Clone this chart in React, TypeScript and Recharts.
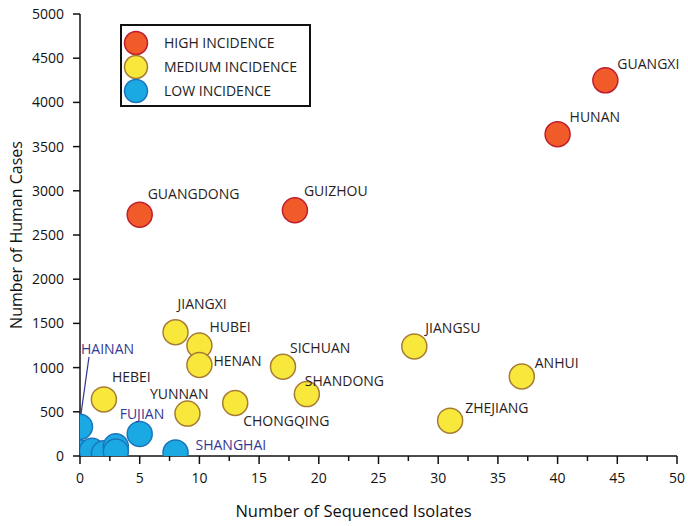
import { Legend, Scatter, ScatterChart, XAxis, YAxis } from "recharts";

const FONT = "'Open Sans', 'Noto Sans', sans-serif";

// high incidence provinces
const HIGH_NAMES = ["GUANGDONG", "GUIZHOU", "HUNAN", "GUANGXI"];
const HIGH_ISOLATES = [5, 18, 40, 44];
const HIGH_CASES = [2730, 2780, 3640, 4250];

// medium incidence provinces
const MED_NAMES = [
  "HEBEI", "JIANGXI", "HUBEI", "HENAN", "YUNNAN", "CHONGQING",
  "SICHUAN", "SHANDONG", "JIANGSU", "ZHEJIANG", "ANHUI",
];
const MED_ISOLATES = [2, 8, 10, 10, 9, 13, 17, 19, 28, 31, 37];
const MED_CASES = [640, 1400, 1250, 1030, 480, 600, 1010, 700, 1240, 400, 900];

// low incidence provinces (unnamed ones are unlabelled in the figure)
const LOW_NAMES = ["HAINAN", "", "", "", "", "", "FUJIAN", "SHANGHAI"];
const LOW_ISOLATES = [0, 0, 1, 2, 3, 3, 5, 8];
const LOW_CASES = [330, 40, 60, 30, 110, 50, 250, 40];

const LEGEND_LABELS = ["HIGH INCIDENCE", "MEDIUM INCIDENCE", "LOW INCIDENCE"];

const X_TICKS = [0, 2.5, 5, 7.5, 10, 12.5, 15, 17.5, 20, 22.5, 25, 27.5, 30, 32.5, 35, 37.5, 40, 42.5, 45, 47.5, 50];
const Y_TICKS = [0, 500, 1000, 1500, 2000, 2500, 3000, 3500, 4000, 4500, 5000];

const toRows = (names: string[], xs: number[], ys: number[]) =>
  names.map((name, i) => ({ name, x: xs[i], y: ys[i] }));

const high = toRows(HIGH_NAMES, HIGH_ISOLATES, HIGH_CASES);
const medium = toRows(MED_NAMES, MED_ISOLATES, MED_CASES);
const low = toRows(LOW_NAMES, LOW_ISOLATES, LOW_CASES);

const STYLES = [
  { fill: "#f15a29", stroke: "#be1e2d", text: "#2b1d1d" },
  { fill: "#f9e83c", stroke: "#a67c35", text: "#2b1d1d" },
  { fill: "#1ba9e4", stroke: "#1c75bc", text: "#353893" },
];

// label placement relative to the circle centre: [dx, dy, anchor]
const LABEL_POS: Record<string, [number, number, "start" | "end"]> = {
  GUANGXI: [12, -16, "start"],
  HUNAN: [12, -17, "start"],
  GUANGDONG: [8, -21, "start"],
  GUIZHOU: [9, -19, "start"],
  JIANGXI: [2, -28, "start"],
  HUBEI: [10, -19, "start"],
  HENAN: [14, -4, "start"],
  HEBEI: [8, -22, "start"],
  YUNNAN: [21, -20, "end"],
  CHONGQING: [8, 18, "start"],
  SICHUAN: [7, -19, "start"],
  SHANDONG: [-2, -13, "start"],
  JIANGSU: [11, -18, "start"],
  ANHUI: [13, -13, "start"],
  ZHEJIANG: [15, -13, "start"],
  HAINAN: [1, -78, "start"],
  FUJIAN: [-20, -20, "start"],
  SHANGHAI: [20, -7, "start"],
};

const R = 12.5;

const dot = (s: { fill: string; stroke: string }) => (p: any) =>
  <circle cx={p.cx} cy={p.cy} r={R} fill={s.fill} stroke={s.stroke} strokeWidth={1.5} />;

const label = (color: string) => (p: any) => {
  const name = p.payload?.name;
  const pos = name ? LABEL_POS[name] : undefined;
  if (!pos) return <g />;
  const [dx, dy, anchor] = pos;
  return (
    <g>
      {name === "HAINAN" && (
        <line x1={p.cx + 9} y1={p.cy - 70} x2={p.cx + 1} y2={p.cy - 13} stroke={color} strokeWidth={1.2} />
      )}
      <text
        x={p.cx + dx}
        y={p.cy + dy + 5}
        textAnchor={anchor}
        fontSize={14}
        fontFamily={FONT}
        fill={color}
      >
        {name}
      </text>
    </g>
  );
};

const XTick = (props: any) => {
  const { x, y, payload } = props;
  const v = payload.value as number;
  const major = v % 5 === 0;
  const axisY = y - 17;
  return (
    <g>
      <line x1={x} x2={x} y1={axisY} y2={axisY + (major ? 8 : 5)} stroke="#111" strokeWidth={1.5} />
      {major && (
        <text x={x} y={y} dy="0.71em" textAnchor="middle" fontSize={14} fontFamily={FONT} fill="#111">
          {v}
        </text>
      )}
    </g>
  );
};

const XTitle = (props: any) => {
  const vb = props.viewBox;
  return (
    <text x={vb.x + vb.width / 2 - 25} y={vb.y + 61} textAnchor="middle" fontSize={16.5} fontFamily={FONT} fill="#111">
      Number of Sequenced Isolates
    </text>
  );
};

const YTitle = (props: any) => {
  const vb = props.viewBox;
  const cx = vb.x + 22;
  const cy = vb.y + vb.height / 2;
  return (
    <text x={cx} y={cy} transform={`rotate(-90, ${cx}, ${cy})`} textAnchor="middle" fontSize={16} fontFamily={FONT} fill="#111">
      Number of Human Cases
    </text>
  );
};

const LegendBox = () => (
  <div
    style={{
      width: 191,
      height: 83,
      boxSizing: "border-box",
      border: "2px solid #111",
      background: "#fff",
      paddingTop: 5,
      paddingLeft: 1,
      fontFamily: FONT,
      fontSize: 14,
      color: "#222",
    }}
  >
    {LEGEND_LABELS.map((t, i) => (
      <div key={t} style={{ display: "flex", alignItems: "center", height: 24 }}>
        <svg width={26} height={26}>
          <circle cx={13} cy={13} r={11.5} fill={STYLES[i].fill} stroke={STYLES[i].stroke} strokeWidth={1.5} />
        </svg>
        <span style={{ marginLeft: 15, lineHeight: "24px" }}>{t}</span>
      </div>
    ))}
  </div>
);

export default function App() {
  const series = [high, medium, low];
  return (
    <div style={{ position: "absolute", left: 0, top: 0, width: 688, height: 526, background: "#fff" }}>
      <ScatterChart width={688} height={526} margin={{ top: 14, right: 11, bottom: 0, left: 0 }}>
        <XAxis
          type="number"
          dataKey="x"
          domain={[0, 50]}
          ticks={X_TICKS}
          interval={0}
          allowDataOverflow
          height={70}
          tickSize={8}
          tickMargin={9}
          tickLine={false}
          tick={<XTick />}
          axisLine={{ stroke: "#111", strokeWidth: 1.5 }}
          label={<XTitle />}
        />
        <YAxis
          type="number"
          dataKey="y"
          domain={[0, 5000]}
          ticks={Y_TICKS}
          interval={0}
          allowDataOverflow
          width={80}
          tickSize={7}
          tickMargin={9}
          tickLine={{ stroke: "#111", strokeWidth: 1.5 }}
          axisLine={{ stroke: "#111", strokeWidth: 1.5 }}
          tick={{ fontSize: 14, fontFamily: FONT, fill: "#111" }}
          label={<YTitle />}
        />
        <XAxis xAxisId="lbl" type="number" dataKey="x" domain={[0, 50]} ticks={X_TICKS} hide />
        <YAxis yAxisId="lbl" type="number" dataKey="y" domain={[0, 5000]} ticks={Y_TICKS} hide />
        {series.map((d, i) => (
          <Scatter key={`dots-${i}`} data={d} shape={dot(STYLES[i])} isAnimationActive={false} />
        ))}
        {series.map((d, i) => (
          <Scatter
            key={`labels-${i}`}
            data={d}
            xAxisId="lbl"
            yAxisId="lbl"
            shape={label(STYLES[i].text)}
            isAnimationActive={false}
            legendType="none"
          />
        ))}
        <Legend
          layout="horizontal"
          verticalAlign="middle"
          align="center"
          content={<LegendBox />}
          wrapperStyle={{ left: 120, top: 24, width: 191 }}
        />
      </ScatterChart>
    </div>
  );
}
